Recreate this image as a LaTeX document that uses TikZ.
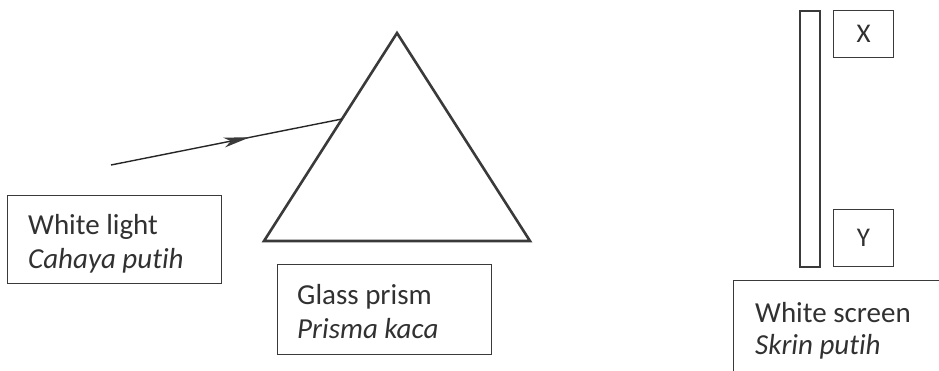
\documentclass[tikz,border=0pt]{standalone}
\usepackage{fontspec}
\setmainfont{Carlito}[Ligatures=NoCommon]
\usetikzlibrary{arrows.meta,decorations.markings}
\definecolor{ink}{HTML}{3A3A3A}
\tikzset{
  lbox/.style={draw=ink, line width=1pt},
  lbl/.style={anchor=base west, inner sep=0pt, font=\fontsize{29}{34}\selectfont, text=ink!85!black},
  prism/.style={draw=ink, line width=2.6pt, line join=miter},
  ray/.style={draw=black!85, line width=1.4pt,
    postaction={decorate, decoration={markings,
      mark=at position 0.6 with {\arrow[ink]{Stealth[length=26pt,width=10pt,inset=7pt]}}}}},
  screenbar/.style={draw=ink, line width=2pt},
  tag/.style={draw=ink, line width=1pt, font=\fontsize{27}{32}\selectfont, text=ink!85!black}
}
\begin{document}
\begin{tikzpicture}[x=1pt,y=-1pt]
\useasboundingbox (0,0) rectangle (939,370);
% prism
\coordinate (apex) at (397,33);
\coordinate (bl) at (264,241);
\coordinate (br) at (530,241);
\draw[prism] (apex) -- (bl) -- (br) -- cycle;
% light ray
\coordinate (rs) at (111,165);
\coordinate (re) at (342,119);
\draw[ray] (rs) -- (re);
% white light box
\node[lbox, minimum width=214pt, minimum height=88pt, anchor=north west] (wl) at (7,195) {};
\node[lbl] (wl1) at (28,234) {White light};
\node[lbl] (wl2) at (28,268) {\itshape Cahaya putih};
% glass prism box
\node[lbox, minimum width=214pt, minimum height=90pt, anchor=north west] (gp) at (277,264) {};
\node[lbl] (gp1) at (297,304) {Glass prism};
\node[lbl] (gp2) at (297,338) {\itshape Prisma kaca};
% screen
\node[screenbar, minimum width=20pt, minimum height=256pt, anchor=north west, inner sep=0pt] (scr) at (799,10) {};
\node[tag, minimum width=60pt, minimum height=47pt, anchor=north west, inner sep=0pt] (x) at (833,10) {X};
\node[tag, minimum width=60pt, minimum height=57pt, anchor=north west, inner sep=0pt] (y) at (833,209) {Y};
% white screen box
\node[lbox, minimum width=220pt, minimum height=100pt, anchor=north west] (ws) at (733,280) {};
\node[lbl] (ws1) at (755,322) {White screen};
\node[lbl] (ws2) at (755,354) {\itshape Skrin putih};
\end{tikzpicture}
\end{document}
